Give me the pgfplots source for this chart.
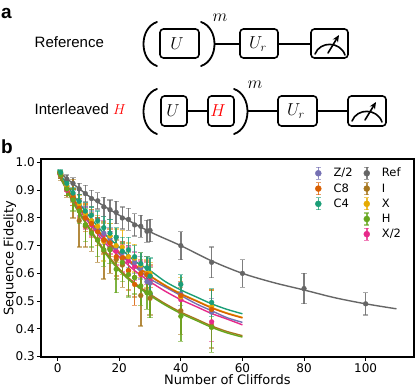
\documentclass[border=0pt]{standalone}
\usepackage{fontspec}
\setmainfont{DejaVu Sans}
\newfontfamily\arial{Liberation Sans}
\usepackage{pgfplots}
\pgfplotsset{compat=1.18}
\usepackage{pgfplotstable}
\usetikzlibrary{arrows.meta}
\definecolor{cref}{HTML}{666666}
\definecolor{ci}{HTML}{A6761D}
\definecolor{cx}{HTML}{E6AB02}
\definecolor{ch}{HTML}{66A61E}
\definecolor{cxh}{HTML}{E7298A}
\definecolor{cz}{HTML}{7570B3}
\definecolor{ceight}{HTML}{D95F02}
\definecolor{cfour}{HTML}{1B9E77}

\pgfplotstableread{
x y e
1 .955 .012
3 .94 .015
5 .925 .02
7 .905 .02
9 .888 .03
11 .87 .03
13 .862 .03
15 .84 .035
17 .83 .035
19 .82 .04
21 .80 .04
23 .795 .04
25 .775 .04
27 .77 .04
29 .752 .04
30 .755 .04
40 .70 .05
50 .64 .055
60 .60 .05
80 .545 .055
100 .49 .04
}\tref
\pgfplotstableread{
x y e
1 .95 .015
3 .905 .03
5 .87 .07
7 .79 .095
9 .77 .075
11 .75 .07
13 .72 .08
15 .68 .10
17 .69 .09
19 .65 .07
21 .63 .08
23 .61 .09
25 .585 .07
27 .52 .11
29 .60 .06
30 .51 .06
40 .465 .085
50 .41 .08
}\ti
\pgfplotstableread{
x y e
1 .955 .012
3 .905 .025
5 .865 .04
7 .825 .045
9 .775 .06
11 .745 .05
13 .72 .06
15 .685 .06
17 .685 .05
19 .615 .085
21 .64 .07
23 .595 .08
25 .585 .06
27 .555 .07
29 .53 .06
30 .53 .09
40 .445 .09
50 .405 .09
}\th
\pgfplotstableread{
x y e
1 .955 .012
3 .905 .025
5 .875 .03
7 .835 .035
9 .80 .05
11 .78 .05
13 .75 .05
15 .72 .05
17 .71 .05
19 .66 .07
21 .655 .06
23 .61 .07
25 .56 .075
27 .60 .05
29 .595 .05
30 .59 .04
40 .52 .05
50 .47 .07
}\tceight
\pgfplotstableread{
x y e
1 .96 .01
3 .915 .02
5 .88 .025
7 .85 .03
9 .815 .035
11 .79 .04
13 .77 .04
15 .715 .07
17 .735 .045
19 .70 .06
21 .695 .06
23 .66 .05
25 .655 .05
27 .63 .045
29 .60 .05
30 .60 .04
40 .515 .07
50 .48 .06
}\tx
\pgfplotstableread{
x y e
1 .96 .01
3 .915 .02
5 .88 .02
7 .84 .03
9 .81 .03
11 .79 .035
13 .765 .035
15 .745 .04
17 .725 .04
19 .695 .04
21 .675 .04
23 .66 .04
25 .64 .04
27 .62 .04
29 .57 .04
30 .565 .04
40 .525 .04
50 .46 .05
}\tz
\pgfplotstableread{
x y e
1 .955 .01
3 .90 .02
5 .865 .02
7 .835 .03
9 .80 .04
11 .775 .04
13 .755 .04
15 .74 .05
17 .71 .04
19 .68 .05
21 .655 .05
23 .645 .05
25 .625 .05
27 .595 .05
29 .60 .04
30 .575 .05
40 .505 .05
50 .425 .07
}\txh
\pgfplotstableread{
x y e
1 .965 .01
3 .925 .015
5 .89 .02
7 .86 .025
9 .825 .03
11 .81 .03
13 .79 .035
15 .765 .04
17 .745 .05
19 .73 .035
21 .68 .05
23 .685 .045
25 .66 .04
27 .635 .04
29 .62 .04
30 .59 .065
40 .56 .035
50 .495 .05
}\tcfour

\pgfplotsset{
  pts/.style={forget plot,only marks,#1,mark=*,mark size=2.4pt,
    mark options={solid,fill=#1,draw=#1},
    error bars/.cd,y dir=both,y explicit,
    error bar style={#1,opacity=0.85,line width=1.6pt},
    error mark options={rotate=90,mark size=2.6pt,#1,opacity=0.55,line width=1.3pt}},
  fit/.style={forget plot,no marks,smooth,#1,line width=1.4pt},
}
\newcommand{\gatebox}[5]{\draw[line width=1.6pt,rounded corners=3.5pt,#5] (#1,#2) rectangle (#3,#4);}

\begin{document}
\begin{tikzpicture}
\useasboundingbox (0,0) rectangle (415pt,385pt);
\begin{axis}[
  at={(41pt,28pt)},anchor=south west,
  scale only axis,width=372.7pt,height=198pt,
  xmin=-5.4,xmax=115.6,ymin=0.298,ymax=1.013,
  axis line style={line width=1.7pt},
  tick style={black,line width=1pt},
  tick align=outside,major tick length=4pt,
  xtick pos=bottom,ytick pos=left,
  xtick={0,20,40,60,80,100},
  ytick={0.3,0.4,0.5,0.6,0.7,0.8,0.9,1.0},
  /pgf/number format/assume math mode=true,
  yticklabel style={/pgf/number format/fixed,/pgf/number format/fixed zerofill,/pgf/number format/precision=1},
  tick label style={font=\fontsize{12}{14}\selectfont},
  xticklabel style={inner sep=1pt,yshift=-1pt},
  yticklabel style={inner sep=1pt,xshift=-1pt},
  xlabel={Number of Cliffords},
  ylabel={Sequence Fidelity},
  label style={font=\fontsize{13}{14}\selectfont},
  xlabel style={inner sep=0pt,yshift=-0.8pt},
  ylabel style={yshift=-5pt},
  legend image code/.code={
    \draw[#1,line width=1.6pt,opacity=0.8] (0pt,-6pt) -- (0pt,6pt);
    \draw[#1,line width=1.2pt,opacity=0.6] (-2.5pt,-6pt) -- (2.5pt,-6pt) (-2.5pt,6pt) -- (2.5pt,6pt);
    \fill[#1] (0pt,0pt) circle (3pt);
  },
  legend columns=2,
  legend cell align=left,
  legend style={at={(0.98,0.975)},anchor=north east,draw=none,fill=none,
    font=\fontsize{11.5}{14}\selectfont,row sep=1.2pt,
    /tikz/every even column/.append style={column sep=9pt},
    /tikz/every odd column/.append style={column sep=10pt}},
]
\addplot[fit=cref] coordinates {(0,.97)(10,.88)(20,.81)(30,.75)(40,.70)(50,.645)(60,.60)(70,.567)(80,.54)(90,.512)(100,.49)(110,.472)};
\addplot[pts=cref] table[x=x,y=y,y error=e] {\tref};

\addplot[pts=ci] table[x=x,y=y,y error=e] {\ti};
\addplot[pts=cxh] table[x=x,y=y,y error=e] {\txh};
\addplot[pts=cz] table[x=x,y=y,y error=e] {\tz};
\addplot[pts=cx] table[x=x,y=y,y error=e] {\tx};
\addplot[pts=ceight] table[x=x,y=y,y error=e] {\tceight};
\addplot[pts=ch] table[x=x,y=y,y error=e] {\th};
\addplot[pts=cfour] table[x=x,y=y,y error=e] {\tcfour};

\addplot[fit=cxh] coordinates {(0,.96)(5,.865)(10,.785)(15,.715)(20,.66)(25,.61)(30,.57)(35,.535)(40,.505)(45,.48)(50,.455)(55,.435)(60,.414)};
\addplot[fit=cz] coordinates {(0,.965)(5,.87)(10,.79)(15,.725)(20,.67)(25,.625)(30,.58)(35,.55)(40,.52)(45,.49)(50,.465)(55,.44)(60,.423)};
\addplot[fit=cx] coordinates {(0,.967)(5,.872)(10,.797)(15,.732)(20,.677)(25,.632)(30,.592)(35,.557)(40,.527)(45,.502)(50,.477)(55,.457)(60,.441)};
\addplot[fit=ceight] coordinates {(0,.965)(5,.87)(10,.795)(15,.73)(20,.675)(25,.63)(30,.59)(35,.555)(40,.525)(45,.50)(50,.475)(55,.455)(60,.439)};
\addplot[fit=cfour] coordinates {(0,.975)(5,.885)(10,.81)(15,.745)(20,.695)(25,.645)(30,.61)(35,.57)(40,.54)(45,.515)(50,.49)(55,.47)(60,.454)};
\addplot[fit=ci] coordinates {(0,.968)(5,.86)(10,.77)(15,.686)(20,.616)(25,.565)(30,.525)(35,.49)(40,.46)(45,.435)(50,.41)(55,.39)(60,.375)};
\addplot[fit=ch] coordinates {(0,.965)(5,.855)(10,.765)(15,.68)(20,.61)(25,.56)(30,.52)(35,.485)(40,.455)(45,.43)(50,.405)(55,.385)(60,.37)};

\addlegendimage{cz}\addlegendentry{Z/2}
\addlegendimage{cref}\addlegendentry{Ref}
\addlegendimage{ceight}\addlegendentry{C8}
\addlegendimage{ci}\addlegendentry{I}
\addlegendimage{cfour}\addlegendentry{C4}
\addlegendimage{cx}\addlegendentry{X}
\addlegendimage{white,opacity=0}\addlegendentry{}
\addlegendimage{ch}\addlegendentry{H}
\addlegendimage{white,opacity=0}\addlegendentry{}
\addlegendimage{cxh}\addlegendentry{X/2}
\end{axis}

\begin{scope}[shift={(0,385pt)},x=1pt,y=-1pt,line cap=round]
\node[anchor=west,inner sep=0,font=\arial\bfseries\fontsize{19}{20}\selectfont] at (1,13) {a};
\node[anchor=base west,inner sep=0,font=\arial\bfseries\fontsize{19}{20}\selectfont] at (1,154) {b};
\node[anchor=west,inner sep=0,font=\arial\fontsize{15}{16}\selectfont] at (34.5,42) {Reference};
\node[anchor=west,inner sep=0,font=\arial\fontsize{15}{16}\selectfont] at (34.5,109) {Interleaved \textcolor{red}{$H$}};
% row 1
\draw[line width=1.8pt] (157,22) .. controls (139,28) and (139,60) .. (157,66);
\draw[line width=1.8pt] (201,22) .. controls (219,28) and (219,60) .. (201,66);
\draw[line width=1.6pt] (215,44) -- (240,44) (278,44) -- (311,44);
\gatebox{160}{29}{199}{58}{}
\gatebox{240}{29}{278}{58}{}
\gatebox{311}{29}{348}{58}{}
\node[font=\fontsize{18}{20}\selectfont] at (177,44) {$U$};
\node[font=\fontsize{18}{20}\selectfont] at (258,44) {$U_r$};
\node[font=\fontsize{16}{18}\selectfont] at (220,18) {$m$};
\draw[line width=1.6pt] (315,54) .. controls (320,41) and (340,41) .. (345,55);
\draw[line width=1.6pt,-{Stealth[length=7pt,width=6pt]}] (328,53) -- (339,35);
% row 2
\draw[line width=1.8pt] (157,89) .. controls (139,95) and (139,128) .. (157,134);
\draw[line width=1.8pt] (234,89) .. controls (252,95) and (252,128) .. (234,134);
\draw[line width=1.6pt] (187,111) -- (208,111) (248,111) -- (278,111) (317,111) -- (348,111);
\gatebox{161}{96}{187}{126}{}
\gatebox{208}{96}{234}{126}{}
\gatebox{278}{96}{317}{126}{}
\gatebox{348}{96}{386}{126}{}
\node[font=\fontsize{18}{20}\selectfont] at (173,111) {$U$};
\node[font=\fontsize{18}{20}\selectfont,text=red] at (218,111) {$H$};
\node[font=\fontsize{18}{20}\selectfont] at (296,111) {$U_r$};
\node[font=\fontsize{16}{18}\selectfont] at (255,85) {$m$};
\draw[line width=1.6pt] (352,121) .. controls (357,108) and (377,108) .. (382,122);
\draw[line width=1.6pt,-{Stealth[length=7pt,width=6pt]}] (365,120) -- (376,102);
\end{scope}
\end{tikzpicture}
\end{document}
